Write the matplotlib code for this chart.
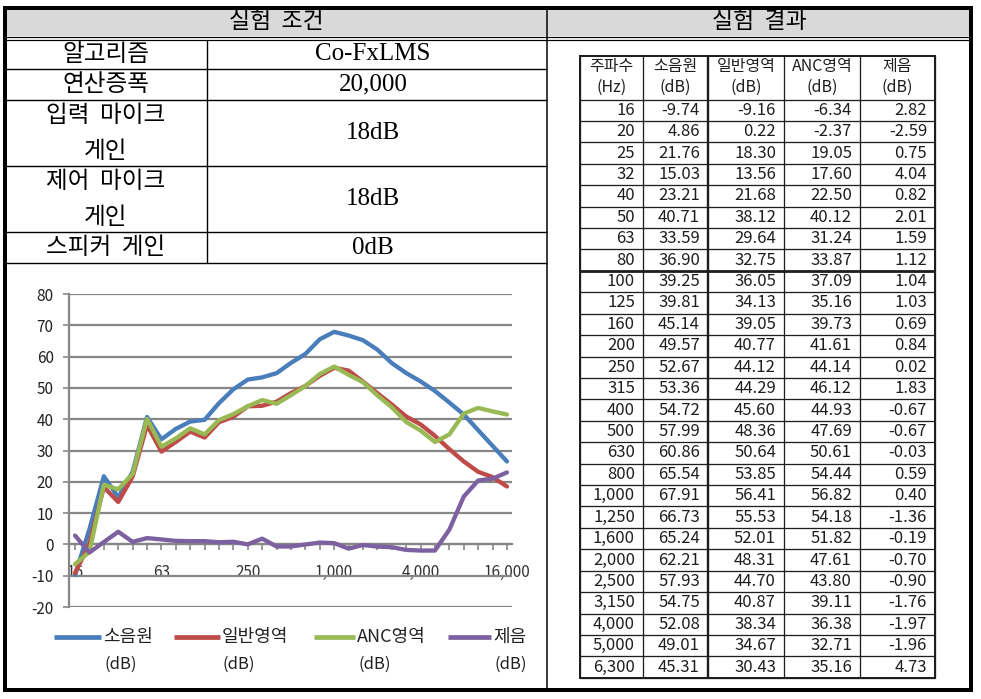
import matplotlib
matplotlib.use("Agg")
import matplotlib.pyplot as plt
from matplotlib.patches import Rectangle
import numpy as np

KR = ["Noto Sans CJK KR", "DejaVu Sans"]
SERIF = ["Liberation Serif", "DejaVu Serif"]
plt.rcParams["font.family"] = KR
plt.rcParams["axes.unicode_minus"] = False

# ---- data ----
cond_labels = ["알고리즘", "연산증폭", "입력 마이크\n게인", "제어 마이크\n게인", "스피커 게인"]
cond_values = ["Co-FxLMS", "20,000", "18dB", "18dB", "0dB"]

table_head = ["주파수\n(Hz)", "소음원\n(dB)", "일반영역\n(dB)", "ANC영역\n(dB)", "제음\n(dB)"]
freq = ["16", "20", "25", "32", "40", "50", "63", "80", "100", "125", "160", "200",
        "250", "315", "400", "500", "630", "800", "1,000", "1,250", "1,600", "2,000",
        "2,500", "3,150", "4,000", "5,000", "6,300"]
src = [-9.74, 4.86, 21.76, 15.03, 23.21, 40.71, 33.59, 36.90, 39.25, 39.81, 45.14, 49.57,
       52.67, 53.36, 54.72, 57.99, 60.86, 65.54, 67.91, 66.73, 65.24, 62.21, 57.93, 54.75,
       52.08, 49.01, 45.31]
gen = [-9.16, 0.22, 18.30, 13.56, 21.68, 38.12, 29.64, 32.75, 36.05, 34.13, 39.05, 40.77,
       44.12, 44.29, 45.60, 48.36, 50.64, 53.85, 56.41, 55.53, 52.01, 48.31, 44.70, 40.87,
       38.34, 34.67, 30.43]
anc = [-6.34, -2.37, 19.05, 17.60, 22.50, 40.12, 31.24, 33.87, 37.09, 35.16, 39.73, 41.61,
       44.14, 46.12, 44.93, 47.69, 50.61, 54.44, 56.82, 54.18, 51.82, 47.61, 43.80, 39.11,
       36.38, 32.71, 35.16]
red = [2.82, -2.59, 0.75, 4.04, 0.82, 2.01, 1.59, 1.12, 1.04, 1.03, 0.69, 0.84,
       0.02, 1.83, -0.67, -0.67, -0.03, 0.59, 0.40, -1.36, -0.19, -0.70, -0.90, -1.76,
       -1.97, -1.96, 4.73]

# chart continues past the table
freq_hi = ["8,000", "10,000", "12,500", "16,000"]
src_hi = [41.5, 36.5, 31.5, 26.5]
gen_hi = [26.5, 23.2, 21.5, 18.5]
anc_hi = [41.8, 43.6, 42.5, 41.5]
red_hi = [15.3, 20.4, 21.0, 23.0]

series_names = ["소음원", "일반영역", "ANC영역", "제음"]
series_colors = ["#4A7EBB", "#BE4B48", "#98B954", "#7D60A0"]
xlabel_every = 6

# ---- figure / background in pixel coords ----
W, H = 981, 699
fig = plt.figure(figsize=(W / 100, H / 100), dpi=100)
bg = fig.add_axes([0, 0, 1, 1])
bg.set_xlim(0, W); bg.set_ylim(H, 0); bg.axis("off")


def px(v):
    return v * 0.72


def hline(y, x0, x1, w=1.4, c="black"):
    bg.plot([x0, x1], [y, y], color=c, lw=px(w), solid_capstyle="butt")


def vline(x, y0, y1, w=1.4, c="black"):
    bg.plot([x, x], [y0, y1], color=c, lw=px(w), solid_capstyle="butt")


L, R, T, B = 5, 971, 8, 690
MID = 547
bg.add_patch(Rectangle((L, T), R - L, 28, facecolor="#d9d9d9", edgecolor="none"))
hline(36.5, L, R, 1.2)
hline(39.5, L, R, 1.2)
vline(MID, T, B, 1.5)
bg.add_patch(Rectangle((L, T), R - L, B - T, facecolor="none", edgecolor="black", lw=px(4)))

bg.text((L + MID) / 2, 22, "실험  조건", ha="center", va="center", fontsize=16.5)
bg.text((MID + R) / 2, 22, "실험  결과", ha="center", va="center", fontsize=16.5)

# left condition table
row_edges = [40, 69, 100, 166, 232, 263]
COL = 207
for y in row_edges[1:]:
    hline(y, L, MID, 1.4)
vline(COL, row_edges[0], row_edges[-1], 1.4)
for i, (lab, val) in enumerate(zip(cond_labels, cond_values)):
    yc = (row_edges[i] + row_edges[i + 1]) / 2
    lines = lab.split("\n")
    if len(lines) == 1:
        bg.text((L + COL) / 2, yc, lab.replace(" ", "  "), ha="center", va="center",
                fontsize=17)
    else:
        for k, ln in enumerate(lines):
            bg.text((L + COL) / 2, yc + (k - 0.5) * 36, ln.replace(" ", "  "),
                    ha="center", va="center", fontsize=17)
    bg.text((COL + MID) / 2 - 4, yc, val, ha="center", va="center", fontsize=18,
            family=SERIF)

# right results table
cols = [580, 643, 708, 784, 860, 935]
t_top, h_bot, rh = 56, 99.5, 21.42
n = len(freq)
t_bot = h_bot + rh * n
tc = "#1e1e1e"
for i in range(n + 1):
    y = h_bot + rh * i
    hline(y, cols[0], cols[-1], 2.8 if i == 8 else 1.3, tc)
for j, x in enumerate(cols):
    vline(x, t_top, t_bot, 2.4 if j == 2 else 1.3, tc)
bg.add_patch(Rectangle((cols[0], t_top), cols[-1] - cols[0], t_bot - t_top,
                       facecolor="none", edgecolor=tc, lw=px(2)))
for j, hd in enumerate(table_head):
    a, b = hd.split("\n")
    xc = (cols[j] + cols[j + 1]) / 2
    bg.text(xc, 67, a, ha="center", va="center", fontsize=11.5, color=tc)
    bg.text(xc, 87, b, ha="center", va="center", fontsize=11.5, color=tc)
for i in range(n):
    yc = h_bot + rh * (i + 0.5)
    cells = [freq[i], f"{src[i]:.2f}", f"{gen[i]:.2f}", f"{anc[i]:.2f}", f"{red[i]:.2f}"]
    for j, s in enumerate(cells):
        bg.text(cols[j + 1] - 8, yc, s, ha="right", va="center", fontsize=12, color=tc)

# ---- chart ----
cx0, cx1, cy0, cy1 = 69, 512, 294, 607
ax = fig.add_axes([cx0 / W, 1 - cy1 / H, (cx1 - cx0) / W, (cy1 - cy0) / H])
ax.patch.set_alpha(0)
cats = freq + freq_hi
x = np.arange(len(cats))
series = [src + src_hi, gen + gen_hi, anc + anc_hi, red + red_hi]
for vals, c in zip(series, series_colors):
    ax.plot(x, vals, color=c, lw=3.1, solid_joinstyle="round", solid_capstyle="round",
            zorder=3)
grey = "#878787"
ax.set_ylim(-20, 80)
ax.set_xlim(-0.42, 30.35)
ax.set_yticks(range(-20, 81, 10))
ax.grid(axis="y", color=grey, lw=1.6)
ax.set_axisbelow(True)
for s in ["top", "right"]:
    ax.spines[s].set_visible(False)
ax.spines["left"].set_color(grey); ax.spines["left"].set_linewidth(1.6)
ax.spines["bottom"].set_color(grey); ax.spines["bottom"].set_linewidth(1.6)
ax.spines["bottom"].set_position(("data", 0))
ax.set_xticks(x)
ax.set_xticklabels([c if i % xlabel_every == 0 else "" for i, c in enumerate(cats)])
ax.tick_params(axis="y", length=4, width=1.2, color=grey, labelsize=11, pad=7,
               labelcolor="#222222")
ax.tick_params(axis="x", length=4, width=1.2, color=grey, labelsize=11, pad=10,
               labelcolor="#333333")

# legend drawn below the plot
leg_y, unit_y = 637, 664
handles = [(54, 101), (174, 220), (314, 355), (448, 491)]
for (h0, h1), name, c in zip(handles, series_names, series_colors):
    bg.plot([h0, h1], [leg_y, leg_y], color=c, lw=3.4, solid_capstyle="butt")
    bg.text(h1 + 2, leg_y, name, ha="left", va="center", fontsize=13, color="#222222")
    bg.text(h1 + 3, unit_y, "(dB)", ha="left", va="center", fontsize=12, color="#222222")

fig.savefig("out.png", dpi=100)
